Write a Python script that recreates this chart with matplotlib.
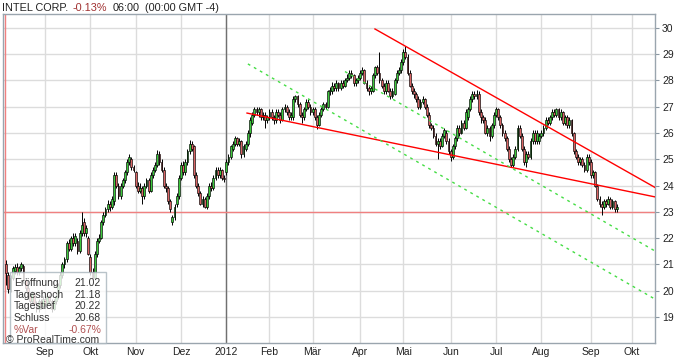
import matplotlib
matplotlib.use("Agg")
import matplotlib.pyplot as plt
from matplotlib.patches import Rectangle
import numpy as np

plt.rcParams['font.family'] = ['Liberation Sans', 'DejaVu Sans']

# Tageskerzen INTEL CORP., Aug 2011 - Sep 2012
opens = [
    # Aug 2011
    21.02, 20.60, 20.05, 20.50, 20.75, 20.90, 20.70, 20.85, 20.95, 20.40, 20.10, 19.80, 19.60, 19.90, 19.50, 19.30, 19.60, 19.40,
    # Sep
    19.70, 19.50, 19.80, 19.60, 19.30, 19.60, 19.80, 20.20, 20.60, 21.00, 21.20, 21.80, 21.60, 22.00, 21.80, 21.90, 21.50, 22.20, 22.60, 22.20, 22.00,
    # Okt
    21.30, 20.70, 20.50, 21.40, 21.90, 22.00, 22.60, 22.90, 23.10, 23.30, 23.20, 23.40, 24.40, 24.00, 23.60, 24.00, 24.20, 24.50, 24.90, 25.00, 24.70,
    # Nov
    24.50, 24.00, 23.80, 23.90, 23.60, 24.00, 24.20, 23.80, 24.40, 24.60, 24.80, 25.20, 24.90, 24.60, 24.00, 23.90, 23.40, 22.60, 22.80, 23.30, 23.60,
    # Dez
    24.30, 24.80, 24.50, 24.90, 25.30, 25.60, 25.50, 24.40, 24.00, 23.70, 23.30, 23.50, 23.20, 23.60, 24.00, 23.90, 24.30, 24.60, 24.40, 24.60, 24.30,
    # Jan 2012
    24.50, 24.90, 25.10, 25.40, 25.60, 25.80, 25.60, 25.70, 25.20, 25.40, 25.60, 26.00, 26.40, 26.70, 26.90, 26.80, 26.90, 26.60, 26.70, 26.50,
    # Feb
    26.60, 26.80, 26.60, 26.50, 26.80, 26.70, 26.50, 26.90, 27.00, 26.80, 26.60, 26.60, 27.30, 27.40, 27.10, 26.70, 26.60, 26.90, 27.20, 27.00,
    # Mär
    26.80, 26.90, 26.60, 26.30, 26.70, 26.90, 27.10, 27.00, 27.60, 27.60, 27.80, 27.70, 27.90, 27.70, 27.90, 27.80, 28.00, 28.10, 28.30, 28.20, 27.90, 28.00,
    # Apr
    28.10, 28.30, 28.40, 27.90, 27.70, 27.60, 27.60, 28.20, 28.50, 28.30, 28.00, 27.80, 27.60, 27.90, 27.60, 27.40, 27.50, 28.00, 28.30, 28.40,
    # Mai
    28.70, 29.10, 28.90, 28.30, 27.80, 27.60, 27.50, 27.30, 27.00, 27.20, 27.30, 27.00, 26.70, 26.30, 26.20, 25.90, 25.60, 25.70, 25.50, 25.90, 26.00, 25.70,
    # Jun
    25.30, 25.10, 25.50, 25.80, 26.20, 26.00, 26.40, 26.20, 26.60, 26.90, 27.30, 27.50, 27.40, 27.50, 26.80, 26.60, 26.50, 26.00, 26.20, 25.90, 26.30,
    # Jul
    26.70, 26.90, 26.60, 26.30, 26.00, 25.80, 25.40, 25.00, 24.80, 25.10, 25.40, 26.20, 25.90, 25.40, 24.90, 25.20, 25.10, 25.70, 26.00, 25.70, 25.70,
    # Aug
    25.90, 26.00, 26.20, 26.50, 26.40, 26.60, 26.80, 26.70, 26.90, 26.60, 26.80, 26.40, 26.60, 26.30, 26.50, 26.00, 25.30, 25.10, 24.90, 25.00, 24.80, 24.60, 25.10,
    # Sep
    24.90, 24.40, 24.50, 24.00, 23.50, 23.30, 23.20, 23.40, 23.30, 23.50, 23.20, 23.40, 23.10,
]
highs = [
    21.18, 20.70, 20.60, 20.95, 21.00, 21.05, 20.95, 21.10, 21.00, 20.50, 20.20, 19.90, 20.00, 19.95, 19.60, 19.70, 19.70, 19.80,
    19.80, 19.90, 19.85, 19.70, 19.70, 19.90, 20.30, 20.70, 21.10, 21.30, 21.90, 21.95, 22.10, 22.20, 22.20, 22.00, 22.30, 23.00, 22.75, 22.50, 22.10,
    21.40, 20.85, 21.50, 22.00, 22.15, 22.70, 23.00, 23.20, 23.45, 23.40, 23.60, 24.50, 24.50, 24.10, 24.10, 24.30, 24.60, 25.00, 25.20, 25.10, 24.80,
    24.55, 24.15, 24.10, 24.00, 24.10, 24.30, 24.30, 24.50, 24.70, 24.90, 25.35, 25.30, 25.00, 24.70, 24.10, 24.00, 23.50, 22.90, 23.30, 23.70, 24.40,
    24.90, 24.95, 25.00, 25.40, 25.75, 25.70, 25.55, 24.50, 24.10, 23.80, 23.60, 23.55, 23.70, 24.10, 24.15, 24.40, 24.70, 24.70, 24.70, 24.65, 24.40,
    25.00, 25.20, 25.55, 25.70, 25.90, 25.85, 25.80, 25.75, 25.60, 25.70, 26.10, 26.60, 26.80, 27.00, 27.00, 27.00, 26.95, 26.80, 26.80, 26.70,
    26.90, 26.90, 26.70, 26.90, 26.90, 26.80, 27.00, 27.10, 27.05, 26.90, 26.80, 27.40, 27.45, 27.45, 27.20, 26.80, 27.00, 27.30, 27.30, 27.10,
    27.00, 27.00, 26.70, 26.80, 27.00, 27.20, 27.20, 27.65, 27.75, 27.95, 27.90, 28.00, 27.95, 28.00, 28.00, 28.10, 28.25, 28.40, 28.40, 28.25, 28.10, 28.20,
    28.40, 28.50, 28.45, 28.00, 27.80, 27.80, 28.30, 28.55, 28.60, 29.10, 28.10, 27.90, 28.00, 28.00, 27.70, 27.70, 28.10, 28.40, 28.50, 28.80,
    29.20, 29.30, 29.00, 28.40, 27.90, 27.70, 27.55, 27.40, 27.30, 27.40, 27.35, 27.10, 26.80, 26.40, 26.30, 26.00, 25.80, 25.80, 26.00, 26.20, 26.10, 25.80,
    25.40, 25.60, 25.90, 26.30, 26.30, 26.50, 26.50, 26.90, 27.00, 27.40, 27.60, 27.60, 27.65, 27.60, 26.90, 26.70, 26.60, 26.30, 26.25, 26.40, 26.80,
    27.00, 26.95, 26.70, 26.40, 26.10, 25.90, 25.50, 25.10, 25.20, 25.50, 26.30, 26.30, 26.00, 25.50, 25.30, 25.30, 25.80, 26.10, 26.10, 26.10, 26.00,
    26.10, 26.30, 26.60, 26.60, 26.70, 26.90, 26.90, 26.95, 26.95, 26.90, 26.85, 26.70, 26.70, 26.60, 26.55, 26.05, 25.40, 25.20, 25.10, 25.10, 24.90, 25.20, 25.20,
    25.00, 24.60, 24.55, 24.05, 23.60, 23.40, 23.50, 23.50, 23.60, 23.55, 23.50, 23.45, 23.30,
]
lows = [
    20.22, 19.90, 19.95, 20.40, 20.65, 20.60, 20.60, 20.75, 20.30, 20.00, 19.70, 19.45, 19.50, 19.40, 19.20, 19.20, 19.30, 19.35,
    19.40, 19.45, 19.50, 19.20, 19.25, 19.50, 19.70, 20.10, 20.50, 20.85, 21.10, 21.50, 21.50, 21.70, 21.70, 21.40, 21.45, 22.10, 22.10, 22.05, 21.35,
    20.60, 20.40, 20.45, 21.30, 21.80, 21.95, 22.50, 22.80, 23.00, 23.05, 23.10, 23.25, 23.90, 23.50, 23.50, 23.90, 24.10, 24.40, 24.80, 24.60, 24.50,
    23.90, 23.70, 23.70, 23.30, 23.50, 23.90, 23.70, 23.75, 24.30, 24.50, 24.70, 24.80, 24.50, 23.90, 23.75, 23.30, 23.00, 22.50, 22.70, 23.20, 23.50,
    24.20, 24.40, 24.40, 24.80, 25.20, 25.30, 24.30, 23.90, 23.60, 23.25, 23.20, 23.15, 23.10, 23.50, 23.80, 23.85, 24.20, 24.30, 24.30, 24.20, 24.15,
    24.40, 24.80, 25.00, 25.30, 25.50, 25.50, 25.50, 25.05, 25.10, 25.30, 25.50, 25.85, 26.30, 26.60, 26.70, 26.60, 26.50, 26.50, 26.20, 26.40,
    26.50, 26.50, 26.35, 26.40, 26.60, 26.40, 26.45, 26.80, 26.70, 26.50, 26.50, 26.50, 27.20, 27.00, 26.60, 26.40, 26.50, 26.85, 26.90, 26.70,
    26.70, 26.50, 26.15, 26.25, 26.60, 26.85, 26.90, 26.95, 27.45, 27.50, 27.60, 27.60, 27.60, 27.65, 27.70, 27.75, 27.95, 28.00, 28.10, 27.80, 27.80, 27.90,
    28.00, 28.20, 27.85, 27.60, 27.45, 27.50, 27.55, 28.10, 28.20, 27.90, 27.70, 27.50, 27.50, 27.55, 27.30, 27.35, 27.45, 27.90, 28.20, 28.30,
    28.60, 28.80, 28.20, 27.75, 27.50, 27.35, 27.20, 26.90, 26.90, 27.10, 26.90, 26.60, 26.20, 26.10, 25.80, 25.50, 25.00, 25.40, 25.45, 25.80, 25.60, 25.20,
    24.95, 25.00, 25.40, 25.70, 25.90, 25.95, 26.10, 26.15, 26.50, 26.85, 27.20, 27.30, 27.30, 26.70, 26.40, 26.40, 25.95, 25.90, 25.70, 25.80, 26.20,
    26.60, 26.50, 26.20, 25.90, 25.70, 25.30, 24.90, 24.70, 24.70, 25.00, 25.30, 25.80, 25.30, 24.80, 24.70, 25.00, 25.00, 25.60, 25.60, 25.60, 25.60,
    25.80, 25.90, 26.10, 26.30, 26.30, 26.50, 26.60, 26.60, 26.50, 26.50, 26.30, 26.30, 26.20, 26.20, 25.90, 25.20, 25.00, 24.80, 24.80, 24.70, 24.50, 24.50, 24.80,
    24.30, 24.30, 23.95, 23.40, 23.20, 22.90, 23.10, 23.20, 23.25, 23.10, 23.10, 23.00, 23.00,
]
closes = [
    20.68, 20.05, 20.50, 20.85, 20.90, 20.70, 20.85, 21.00, 20.40, 20.10, 19.80, 19.60, 19.90, 19.50, 19.30, 19.60, 19.40, 19.70,
    19.50, 19.80, 19.60, 19.30, 19.60, 19.80, 20.20, 20.60, 21.00, 21.20, 21.80, 21.60, 22.00, 21.80, 22.10, 21.50, 22.20, 22.50, 22.20, 22.40, 21.40,
    20.70, 20.50, 21.40, 21.90, 22.00, 22.60, 22.90, 23.10, 23.30, 23.20, 23.50, 24.40, 24.00, 23.60, 24.00, 24.20, 24.50, 24.90, 25.10, 24.70, 24.60,
    24.00, 23.80, 23.90, 23.60, 24.00, 24.20, 23.80, 24.40, 24.60, 24.80, 25.20, 24.90, 24.60, 24.00, 23.90, 23.40, 23.10, 22.80, 23.20, 23.60, 24.30,
    24.80, 24.50, 24.90, 25.30, 25.60, 25.40, 24.40, 24.00, 23.70, 23.30, 23.50, 23.20, 23.60, 24.00, 23.90, 24.30, 24.60, 24.40, 24.60, 24.30, 24.25,
    24.90, 25.10, 25.50, 25.60, 25.80, 25.60, 25.70, 25.20, 25.50, 25.60, 26.00, 26.50, 26.70, 26.90, 26.80, 26.90, 26.60, 26.70, 26.50, 26.60,
    26.80, 26.60, 26.50, 26.80, 26.70, 26.50, 26.90, 27.00, 26.80, 26.60, 26.70, 27.30, 27.40, 27.10, 26.70, 26.60, 26.90, 27.20, 27.00, 26.80,
    26.90, 26.60, 26.30, 26.70, 26.90, 27.10, 27.00, 27.60, 27.60, 27.80, 27.70, 27.90, 27.70, 27.90, 27.80, 28.00, 28.10, 28.30, 28.20, 27.90, 28.00, 28.10,
    28.30, 28.40, 27.90, 27.70, 27.60, 27.70, 28.20, 28.50, 28.30, 28.00, 27.80, 27.60, 27.90, 27.60, 27.40, 27.60, 28.00, 28.30, 28.40, 28.70,
    29.10, 28.90, 28.30, 27.80, 27.60, 27.50, 27.30, 27.00, 27.20, 27.30, 27.00, 26.70, 26.30, 26.20, 25.90, 25.60, 25.70, 25.50, 25.90, 26.10, 25.70, 25.30,
    25.10, 25.50, 25.80, 26.20, 26.00, 26.40, 26.20, 26.80, 26.90, 27.30, 27.50, 27.40, 27.50, 26.80, 26.60, 26.50, 26.00, 26.20, 25.90, 26.30, 26.70,
    26.90, 26.60, 26.30, 26.00, 25.80, 25.40, 25.00, 24.80, 25.10, 25.40, 26.20, 25.90, 25.40, 24.90, 25.20, 25.10, 25.70, 26.00, 25.70, 26.00, 25.90,
    26.00, 26.20, 26.50, 26.40, 26.60, 26.80, 26.70, 26.90, 26.60, 26.80, 26.40, 26.60, 26.30, 26.50, 26.00, 25.30, 25.10, 24.90, 25.00, 24.80, 24.60, 25.10, 24.90,
    24.40, 24.50, 24.00, 23.50, 23.30, 23.20, 23.40, 23.30, 23.50, 23.20, 23.40, 23.10, 23.20,
]

# Monate: Beschriftung und Handelstage je Monat (Aug 2011 nur teilweise sichtbar)
first_days = 18
month_labels = ['Sep', 'Okt', 'Nov', 'Dez', '2012', 'Feb', 'Mär', 'Apr', 'Mai', 'Jun', 'Jul', 'Aug', 'Sep', 'Okt']
month_days = [21, 21, 21, 21, 20, 20, 22, 20, 22, 21, 21, 23, 19]

# Trendlinien (Start-/Endkerze, Kurs)
red_lines = [((111.6, 300.7), (26.76, 23.57)), ((170.9, 300.7), (29.96, 23.93))]
green_lines = [((157.0, 300.7), (28.34, 21.51)), ((112.0, 300.7), (28.63, 19.68))]

# Infobox der ersten Kerze
info_labels = ['Eröffnung', 'Tageshoch', 'Tagestief', 'Schluss', '%Var']
info_values = ['21.02', '21.18', '20.22', '20.68', '-0.67%']

o = np.array(opens); h = np.array(highs); l = np.array(lows); c = np.array(closes)
assert len(o) == len(h) == len(l) == len(c)
idx = np.arange(len(c))
month_pos = first_days + np.concatenate([[0], np.cumsum(month_days)])

W, H = 700, 360
fig = plt.figure(figsize=(W / 100, H / 100), dpi=100)
ax = fig.add_axes([3 / W, 1 - 343 / H, 652 / W, 329 / H])
ax.set_xlim(-1.5, 300.7)
ax.set_ylim(18.01, 30.53)

# Gitter
ax.set_yticks(range(19, 31))
ax.set_xticks(month_pos)
ax.set_xticklabels(month_labels)
ax.grid(True, color='#dcdcdc', lw=1, zorder=0)
ax.set_axisbelow(True)
ax.yaxis.tick_right()
ax.tick_params(axis='y', labelsize=7.5, length=3, width=0.8, color='#8a97a3',
               labelcolor='#222222', pad=2)
ax.tick_params(axis='x', labelsize=7.5, length=0, labelcolor='#222222', pad=3)
for s in ax.spines.values():
    s.set_color('#9aa5ae')
    s.set_linewidth(1)

ax.axvline(month_pos[4], color='#707070', lw=1, zorder=1)
ax.axhline(23.0, color='#f08080', lw=1, zorder=1)
ax.axvline(-0.55, color='#f08080', lw=1, zorder=1)

# Kerzen
up = c >= o
cols = np.where(up, '#3cc83c', '#d96464')
ax.vlines(idx, l, h, color='black', lw=0.7, zorder=3)
body = np.maximum(np.abs(c - o), 0.03)
ax.bar(idx, body, bottom=np.minimum(o, c), width=0.85, color=cols,
       edgecolor='black', linewidth=0.45, zorder=4)

for xs, ys in red_lines:
    ax.plot(xs, ys, color='#ff0000', lw=1.0, zorder=5)
for xs, ys in green_lines:
    ax.plot(xs, ys, color='#44dd44', lw=1, ls=(0, (2, 3)), zorder=5)

# Kopfzeile
fig.text(2 / W, 1 - 8 / H, 'INTEL CORP.', fontsize=7.8, color='#222222', va='center')
fig.text(73 / W, 1 - 8 / H, '-0.13%', fontsize=7.8, color='#a03030', va='center')
fig.text(113 / W, 1 - 8 / H, '06:00', fontsize=7.8, color='#222222', va='center')
fig.text(145 / W, 1 - 8 / H, '(00:00 GMT -4)', fontsize=7.8, color='#222222', va='center')

# Infobox
box = Rectangle((10 / W, 1 - 343 / H), 96 / W, 71 / H, transform=fig.transFigure,
                facecolor='white', alpha=0.8, edgecolor='#a8b4bc', lw=1, zorder=6)
fig.patches.append(box)
rows_y = [283, 294.5, 306, 318, 330]
for lab, val, yy in zip(info_labels, info_values, rows_y):
    colr = '#b05050' if lab == '%Var' else '#333333'
    fig.text(14 / W, 1 - yy / H, lab, fontsize=7.5, color=colr, va='center', zorder=7)
    fig.text(101 / W, 1 - yy / H, val, fontsize=7.5, color=colr, va='center', ha='right', zorder=7)
fig.text(6 / W, 1 - 340 / H, '© ProRealTime.com', fontsize=7.5, color='#333333', va='center', zorder=7)

fig.savefig('out.png', dpi=100)
